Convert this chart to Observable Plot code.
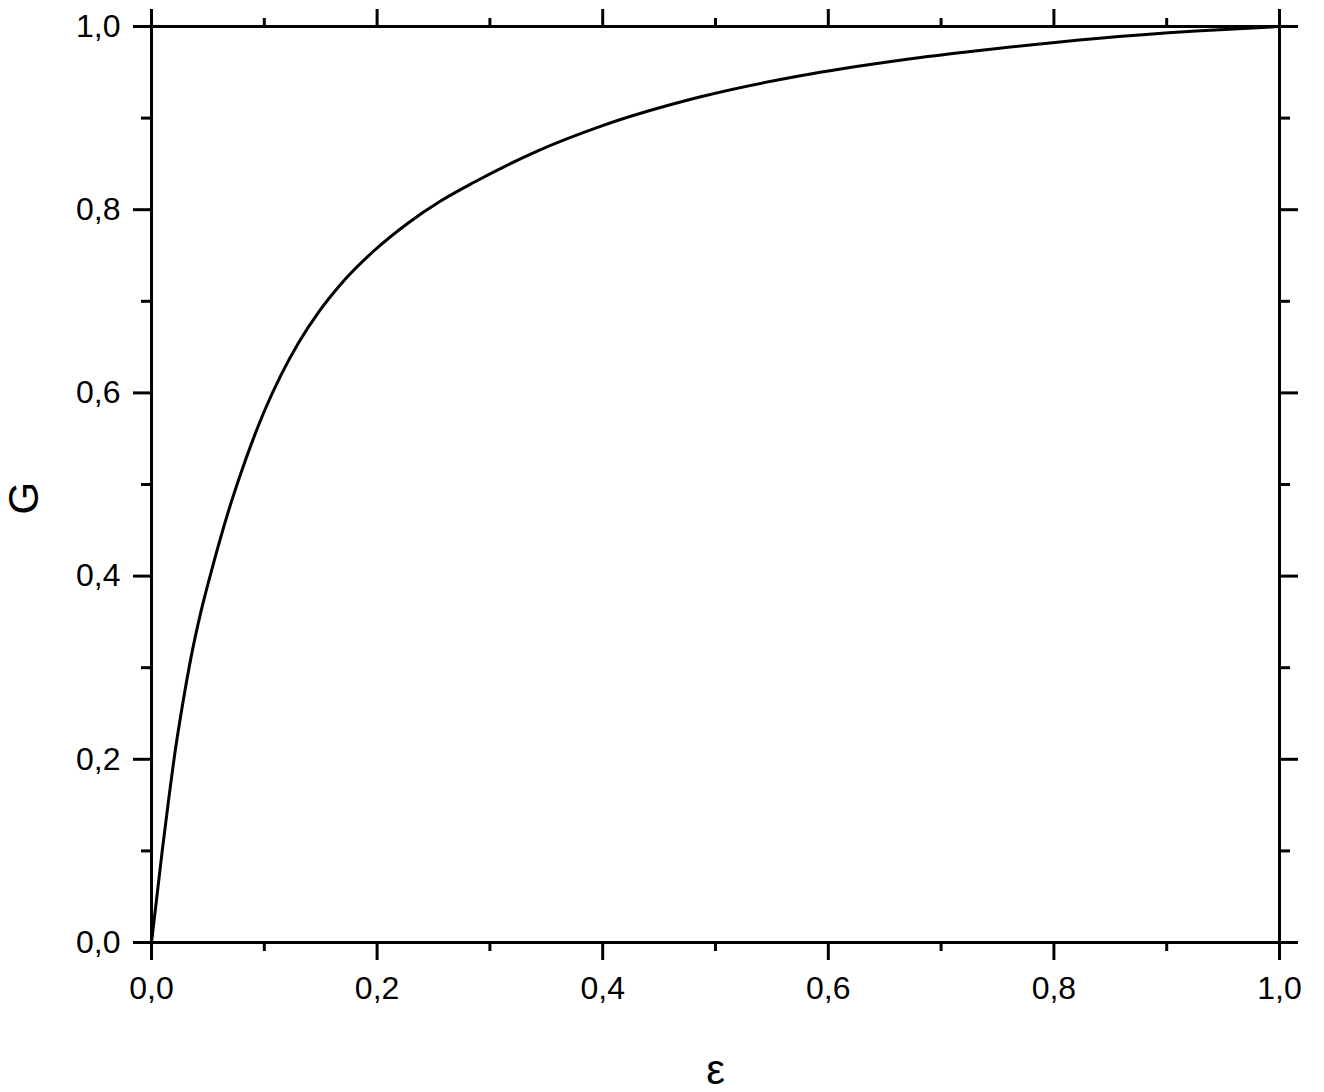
<!DOCTYPE html>
<html><head><meta charset="utf-8">
<script src="https://cdn.jsdelivr.net/npm/d3@7"></script>
<script src="https://cdn.jsdelivr.net/npm/@observablehq/plot@0.6"></script>
<style>body{margin:0;background:#fff}</style>
</head><body><div id="chart"></div>
<script>
const epsilon = [0, 0.0095, 0.015, 0.021, 0.028, 0.035, 0.044, 0.053, 0.068, 0.080, 0.100, 0.115, 0.130, 0.148, 0.168, 0.198, 0.227, 0.257, 0.286, 0.316, 0.342, 0.398, 0.486, 0.574, 0.662, 0.750, 0.838, 0.926, 1.000];
const gValues = [0, 0.100, 0.154, 0.209, 0.263, 0.311, 0.362, 0.405, 0.470, 0.515, 0.580, 0.620, 0.654, 0.688, 0.719, 0.756, 0.785, 0.810, 0.830, 0.849, 0.864, 0.891, 0.923, 0.946, 0.963, 0.976, 0.987, 0.995, 1.000];
const majorTicks = [0, 0.2, 0.4, 0.6, 0.8, 1.0];
const minorTicks = [0.1, 0.3, 0.5, 0.7, 0.9];
const xLabel = "ε";
const yLabel = "G";
const fmt = d => d.toFixed(1).replace(".", ",");
const none = () => "";
const data = epsilon.map((e, i) => ({e, g: gValues[i]}));

const chart = Plot.plot({
  width: 1324, height: 1092,
  marginLeft: 151, marginRight: 45, marginTop: 26, marginBottom: 150,
  style: {fontFamily: "'Liberation Sans', Arial, sans-serif", background: "#fff", color: "#000"},
  x: {domain: [0, 1]},
  y: {domain: [0, 1]},
  marks: [
    Plot.axisX({anchor: "bottom", ticks: majorTicks, tickSize: 18, tickPadding: 16, tickFormat: fmt, fontSize: 32, strokeWidth: 3, label: null}),
    Plot.axisX({anchor: "bottom", ticks: minorTicks, tickSize: 9, tickFormat: none, strokeWidth: 3, label: null}),
    Plot.axisX({anchor: "top", ticks: majorTicks, tickSize: 18, tickFormat: none, strokeWidth: 3, label: null}),
    Plot.axisX({anchor: "top", ticks: minorTicks, tickSize: 9, tickFormat: none, strokeWidth: 3, label: null}),
    Plot.axisY({anchor: "left", ticks: majorTicks, tickSize: 18, tickPadding: 13, tickFormat: fmt, fontSize: 32, strokeWidth: 3, label: null}),
    Plot.axisY({anchor: "left", ticks: minorTicks, tickSize: 10, tickFormat: none, strokeWidth: 3, label: null}),
    Plot.axisY({anchor: "right", ticks: majorTicks, tickSize: 18, tickFormat: none, strokeWidth: 3, label: null}),
    Plot.axisY({anchor: "right", ticks: minorTicks, tickSize: 10, tickFormat: none, strokeWidth: 3, label: null}),
    Plot.frame({stroke: "#000", strokeWidth: 3}),
    Plot.line(data, {x: "e", y: "g", stroke: "#000", strokeWidth: 3, curve: "monotone-x"}),
    Plot.text([xLabel], {frameAnchor: "bottom", dy: 128, fontSize: 42, lineAnchor: "middle", fill: "#000"}),
    Plot.text([yLabel], {frameAnchor: "left", dx: -127, dy: 30, rotate: -90, fontSize: 42, lineAnchor: "middle", fill: "#000"})
  ]
});
document.getElementById("chart").appendChild(chart);
</script>
</body></html>
